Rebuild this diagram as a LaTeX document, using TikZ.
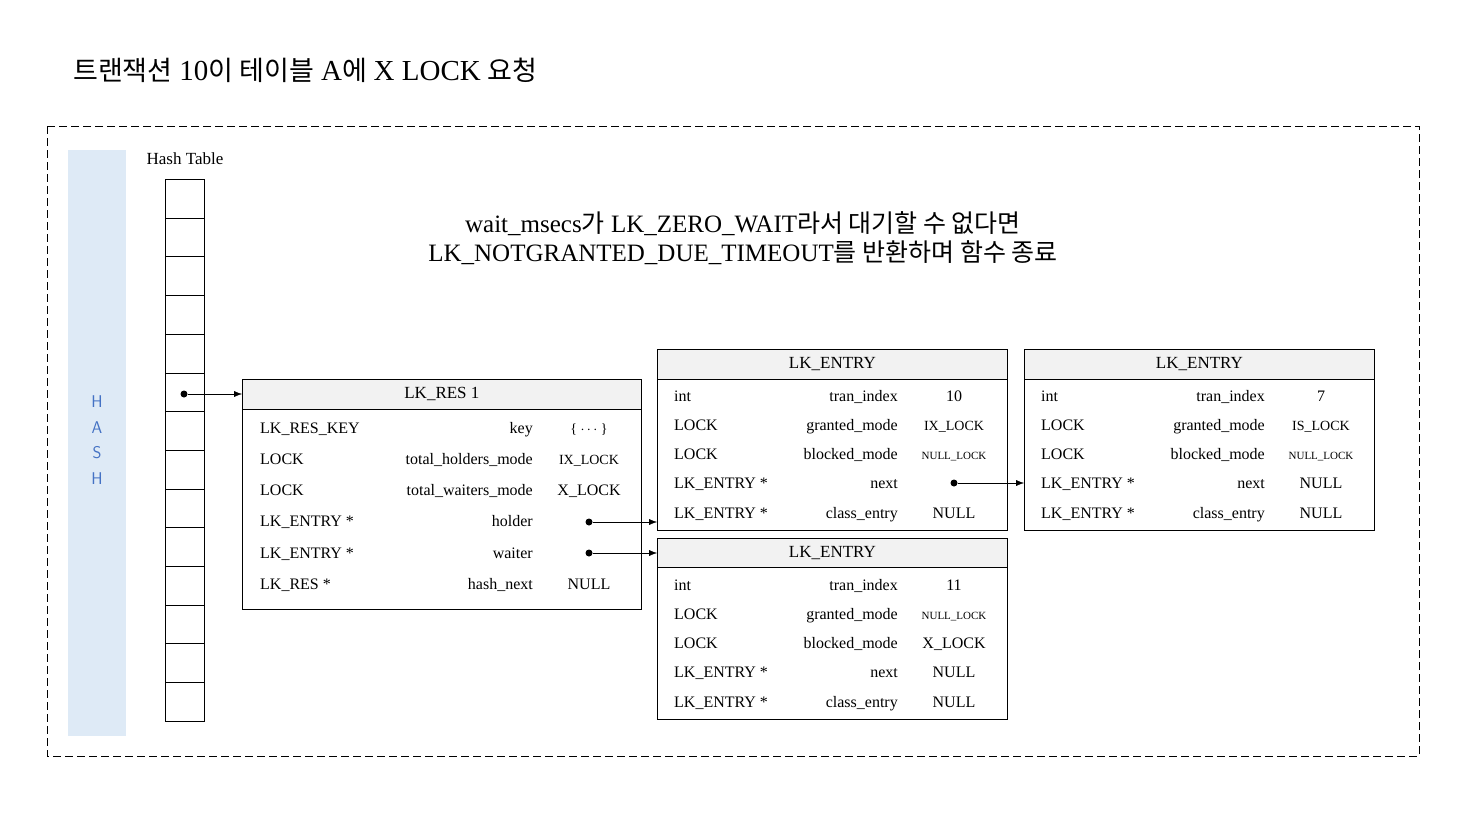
\documentclass[tikz,border=0pt]{standalone}
\usepackage{fontspec}
\setmainfont{Liberation Serif}
\newfontfamily\cjk{Noto Sans CJK KR}
\usetikzlibrary{arrows.meta}
\definecolor{hashblue}{RGB}{222,234,246}
\definecolor{hashtext}{RGB}{68,114,196}
\definecolor{headgray}{RGB}{242,242,242}
\begin{document}
\begin{tikzpicture}[x=1pt,y=-1pt,
    box/.style={draw, thick, anchor=north west, inner sep=0pt},
    head/.style={draw, thick, fill=headgray, anchor=north west, inner sep=0pt, font=\fontsize{17}{20}\selectfont},
    cell/.style={draw, thick, minimum width=39pt, minimum height=38.7pt, inner sep=0pt, anchor=north west},
    txt/.style={inner sep=0pt, text height=11pt, text depth=3pt, font=\fontsize{16}{19}\selectfont},
    mid/.style={txt, font=\fontsize{14}{17}\selectfont},
    small/.style={txt, font=\fontsize{11}{13}\selectfont},
    dot/.style={circle, fill, inner sep=0pt, minimum size=7pt},
    link/.style={-{Latex[length=8pt,width=6pt]}}]
    \useasboundingbox (0,0) rectangle (1467,825);

    % title
    \node[inner sep=0pt, anchor=west, font=\fontsize{27}{32}\selectfont] (title) at (73,70)
        {{\cjk 트랜잭션} {\fontsize{29}{32}\selectfont 10}{\cjk 이} {\cjk 테이블} {\fontsize{29}{32}\selectfont A}{\cjk 에} {\fontsize{29}{32}\selectfont X LOCK} {\cjk 요청}};
    \draw[thick, dash pattern=on 8pt off 4pt] (47,126) rectangle (1419,756);

    % hash column
    \node[fill=hashblue, anchor=north west, minimum width=58pt, minimum height=586pt, inner sep=0pt] (hash) at (68,150) {};
    \foreach \c [count=\i] in {H,A,S,H}
        \node[txt, text=hashtext, font=\fontsize{17}{20}\selectfont] (hash-\i) at (97,{378+25.6*\i}) {\sffamily\c};
    \node[txt, font=\fontsize{17}{20}\selectfont] (htlabel) at (185,160) {Hash Table};
    \foreach \i in {0,...,13}
        \node[cell] (ht-\i) at (165,{179+38.7*\i}) {};

    % note
    \node[align=center, inner sep=0pt, font=\fontsize{25}{29}\selectfont] (note) at (743,238)
        {wait\_msecs{\cjk 가} LK\_ZERO\_WAIT{\cjk 라서 대기할 수 없다면}\\
         LK\_NOTGRANTED\_DUE\_TIMEOUT{\cjk 를 반환하며 함수 종료}};

    % LK_RES
    \node[box, minimum width=399pt, minimum height=230pt] (res) at (242,379) {};
    \node[head, minimum width=399pt, minimum height=30pt] (res-h) at (242,379) {LK\_RES 1};
    \foreach \t/\n/\v/\s [count=\i] in {LK\_RES\_KEY/key/\{ $\cdots$ \}/mid,
        LOCK/total\_holders\_mode/IX\_LOCK/mid,
        LOCK/total\_waiters\_mode/X\_LOCK/txt,
        LK\_ENTRY */holder//txt,
        LK\_ENTRY */waiter//txt,
        LK\_RES */hash\_next/NULL/txt} {
        \node[txt, anchor=west] (res-t\i) at (260,{398+31.2*\i}) {\t};
        \node[txt, anchor=east] (res-n\i) at (533,{398+31.2*\i}) {\n};
        \node[\s] (res-v\i) at (589,{398+31.2*\i}) {\v};
    }

    % LK_ENTRY tran 10
    \node[box, minimum width=350pt, minimum height=181pt] (e1) at (657,349) {};
    \node[head, minimum width=350pt, minimum height=30pt] (e1-h) at (657,349) {LK\_ENTRY};
    \foreach \t/\n/\v/\s [count=\i] in {int/tran\_index/10/txt,
        LOCK/granted\_mode/IX\_LOCK/mid,
        LOCK/blocked\_mode/NULL\_LOCK/small,
        LK\_ENTRY */next//txt,
        LK\_ENTRY */class\_entry/NULL/txt} {
        \node[txt, anchor=west] (e1-t\i) at (674,{368+29.2*\i}) {\t};
        \node[txt, anchor=east] (e1-n\i) at (898,{368+29.2*\i}) {\n};
        \node[\s] (e1-v\i) at (954,{368+29.2*\i}) {\v};
    }

    % LK_ENTRY tran 11
    \node[box, minimum width=350pt, minimum height=181pt] (e2) at (657,538) {};
    \node[head, minimum width=350pt, minimum height=29pt] (e2-h) at (657,538) {LK\_ENTRY};
    \foreach \t/\n/\v/\s [count=\i] in {int/tran\_index/11/txt,
        LOCK/granted\_mode/NULL\_LOCK/small,
        LOCK/blocked\_mode/X\_LOCK/txt,
        LK\_ENTRY */next/NULL/txt,
        LK\_ENTRY */class\_entry/NULL/txt} {
        \node[txt, anchor=west] (e2-t\i) at (674,{557+29.2*\i}) {\t};
        \node[txt, anchor=east] (e2-n\i) at (898,{557+29.2*\i}) {\n};
        \node[\s] (e2-v\i) at (954,{557+29.2*\i}) {\v};
    }

    % LK_ENTRY tran 7
    \node[box, minimum width=350pt, minimum height=181pt] (e3) at (1024,349) {};
    \node[head, minimum width=350pt, minimum height=30pt] (e3-h) at (1024,349) {LK\_ENTRY};
    \foreach \t/\n/\v/\s [count=\i] in {int/tran\_index/7/txt,
        LOCK/granted\_mode/IS\_LOCK/mid,
        LOCK/blocked\_mode/NULL\_LOCK/small,
        LK\_ENTRY */next/NULL/txt,
        LK\_ENTRY */class\_entry/NULL/txt} {
        \node[txt, anchor=west] (e3-t\i) at (1041,{368+29.2*\i}) {\t};
        \node[txt, anchor=east] (e3-n\i) at (1265,{368+29.2*\i}) {\n};
        \node[\s] (e3-v\i) at (1321,{368+29.2*\i}) {\v};
    }

    % pointers
    \node[dot] (ht-dot) at (184,394) {};
    \node[dot] (holder-dot) at (589,522) {};
    \node[dot] (waiter-dot) at (589,553) {};
    \node[dot] (next-dot) at (954,483) {};
    \draw[link] (ht-dot) -- (ht-dot -| res.west);
    \draw[link] (holder-dot) -- (holder-dot -| e1.west);
    \draw[link] (waiter-dot) -- (waiter-dot -| e2.west);
    \draw[link] (next-dot) -- (next-dot -| e3.west);
\end{tikzpicture}
\end{document}
